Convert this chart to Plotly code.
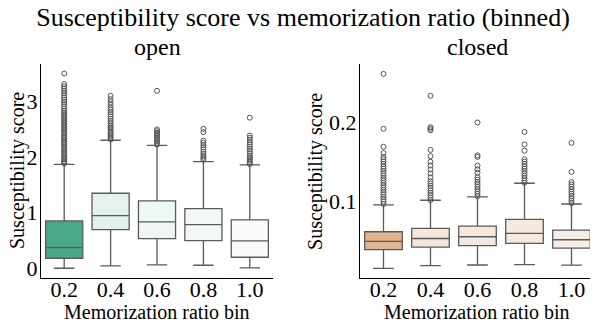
import plotly.graph_objects as go
from plotly.subplots import make_subplots

bins = ["0.2", "0.4", "0.6", "0.8", "1.0"]

# open models: box stats per bin
open_q1 = [0.185, 0.698, 0.537, 0.500, 0.203]
open_med = [0.376, 0.948, 0.835, 0.787, 0.495]
open_q3 = [0.853, 1.348, 1.210, 1.073, 0.870]
open_lo = [0.006, 0.048, 0.066, 0.060, 0.012]
open_hi = [1.866, 2.296, 2.206, 1.914, 1.855]
open_out = [
    [1.88, 1.9, 1.92, 1.95, 1.97, 2.0, 2.03, 2.06, 2.09, 2.12, 2.15, 2.18, 2.21, 2.24,
     2.27, 2.3, 2.33, 2.36, 2.39, 2.42, 2.45, 2.48, 2.51, 2.54, 2.57, 2.6, 2.63, 2.66,
     2.69, 2.72, 2.75, 2.78, 2.82, 2.86, 2.9, 2.94, 2.98, 3.02, 3.06, 3.1, 3.14, 3.18,
     3.22, 3.26, 3.3, 3.49],
    [2.31, 2.34, 2.37, 2.4, 2.43, 2.46, 2.5, 2.53, 2.56, 2.6, 2.64, 2.68, 2.72, 2.76,
     2.8, 2.84, 2.88, 2.93, 2.98, 3.03, 3.09],
    [2.22, 2.25, 2.28, 2.31, 2.34, 2.37, 2.4, 2.43, 2.46, 2.49, 3.18],
    [1.95, 1.98, 2.01, 2.05, 2.09, 2.13, 2.17, 2.21, 2.25, 2.29, 2.44, 2.5],
    [1.87, 1.9, 1.93, 1.96, 1.99, 2.02, 2.06, 2.1, 2.14, 2.18, 2.22, 2.26, 2.3, 2.34,
     2.38, 2.7],
]

# closed models: box stats per bin
closed_q1 = [0.0377, 0.0410, 0.0428, 0.0458, 0.0398]
closed_med = [0.0483, 0.0520, 0.0542, 0.0585, 0.0504]
closed_q3 = [0.0606, 0.0648, 0.0678, 0.0763, 0.0627]
closed_lo = [0.0140, 0.0174, 0.0182, 0.0186, 0.0180]
closed_hi = [0.0949, 0.1008, 0.1050, 0.1225, 0.0960]
closed_out = [
    [0.096, 0.099, 0.102, 0.105, 0.108, 0.111, 0.114, 0.117, 0.12, 0.123, 0.126, 0.129,
     0.132, 0.135, 0.138, 0.141, 0.144, 0.147, 0.15, 0.153, 0.156, 0.161, 0.169, 0.192,
     0.262],
    [0.101, 0.104, 0.107, 0.11, 0.113, 0.116, 0.119, 0.122, 0.125, 0.13, 0.135, 0.14,
     0.145, 0.15, 0.157, 0.165, 0.19, 0.192, 0.194, 0.234],
    [0.106, 0.109, 0.112, 0.115, 0.118, 0.121, 0.124, 0.127, 0.13, 0.136, 0.14, 0.145,
     0.156, 0.158, 0.2],
    [0.123, 0.126, 0.129, 0.132, 0.135, 0.138, 0.141, 0.144, 0.147, 0.15, 0.153, 0.164,
     0.172, 0.188],
    [0.097, 0.1, 0.103, 0.106, 0.109, 0.112, 0.115, 0.118, 0.121, 0.124, 0.137, 0.174],
]

open_colors = ["#4aa98b", "#e4f2ee", "#eef7f4", "#f1f8f6", "#f8fbfa"]
closed_colors = ["#e2b592", "#f4e7de", "#f5e8df", "#f6e9e0", "#f7ede6"]

FONT = "Liberation Serif, Times New Roman, serif"
EDGE = "#5a5a5a"

fig = make_subplots(rows=1, cols=2)

panels = [
    (1, open_q1, open_med, open_q3, open_lo, open_hi, open_out, open_colors),
    (2, closed_q1, closed_med, closed_q3, closed_lo, closed_hi, closed_out, closed_colors),
]
for col, q1, med, q3, lo, hi, outs, colors in panels:
    for i, b in enumerate(bins):
        fig.add_trace(go.Box(
            x=[b], q1=[q1[i]], median=[med[i]], q3=[q3[i]],
            lowerfence=[lo[i]], upperfence=[hi[i]],
            fillcolor=colors[i], line=dict(color=EDGE, width=1.3),
            width=0.8, whiskerwidth=0.55, boxpoints=False, showlegend=False,
        ), row=1, col=col)
        fig.add_trace(go.Scatter(
            x=[b] * len(outs[i]), y=outs[i], mode="markers",
            marker=dict(symbol="circle-open", size=5, color="#555555", line=dict(width=1)),
            showlegend=False,
        ), row=1, col=col)

axis_common = dict(
    showline=True, linecolor="black", linewidth=1, showgrid=False, zeroline=False,
    ticks="", automargin=False, tickfont=dict(family=FONT, size=22, color="black"),
)
left_dom = [0, 0.4188]
right_dom = [0.5758, 1]
for col, dom in ((1, left_dom), (2, right_dom)):
    fig.update_xaxes(axis_common, type="category", range=[-0.5, 4.5], domain=dom,
                     ticklabelstandoff=-8, row=1, col=col)
    fig.update_yaxes(axis_common, ticklabelstandoff=-2, row=1, col=col)
fig.update_yaxes(range=[-0.168, 3.66], tickvals=[0, 1, 2, 3], row=1, col=1)
fig.update_yaxes(range=[0.0016, 0.2746], tickvals=[0.1, 0.2], row=1, col=2)

title_font = dict(family=FONT, size=20, color="black")
annotations = []
for dom, label in ((left_dom, "open"), (right_dom, "closed")):
    cx = (dom[0] + dom[1]) / 2
    annotations.append(dict(text=label, x=cx, y=1.0, xref="paper", yref="paper",
                            xanchor="center", yanchor="bottom", yshift=2, showarrow=False,
                            font=dict(family=FONT, size=24, color="black")))
    annotations.append(dict(text="Memorization ratio bin", x=cx, y=0, xref="paper",
                            yref="paper", xanchor="center", yanchor="middle", yshift=-34,
                            showarrow=False, font=title_font))
for dom, shift in ((left_dom, -24), (right_dom, -45)):
    annotations.append(dict(text="Susceptibility score", x=dom[0], y=0.5, xref="paper",
                            yref="paper", xanchor="center", yanchor="middle", xshift=shift,
                            textangle=-90, showarrow=False,
                            font=dict(family=FONT, size=20, color="black")))

# page body has an 8px margin, so the figure is a bit smaller than the window
fig.update_layout(
    width=590, height=312,
    margin=dict(l=33, r=3, t=56, b=42),
    plot_bgcolor="white", paper_bgcolor="white",
    boxmode="overlay",
    title=dict(text="Susceptibility score vs memorization ratio (binned)",
               x=0.5, xanchor="center", y=0.971, yanchor="middle",
               font=dict(family=FONT, size=26, color="black")),
    annotations=annotations,
)

fig.write_html("out.html")
